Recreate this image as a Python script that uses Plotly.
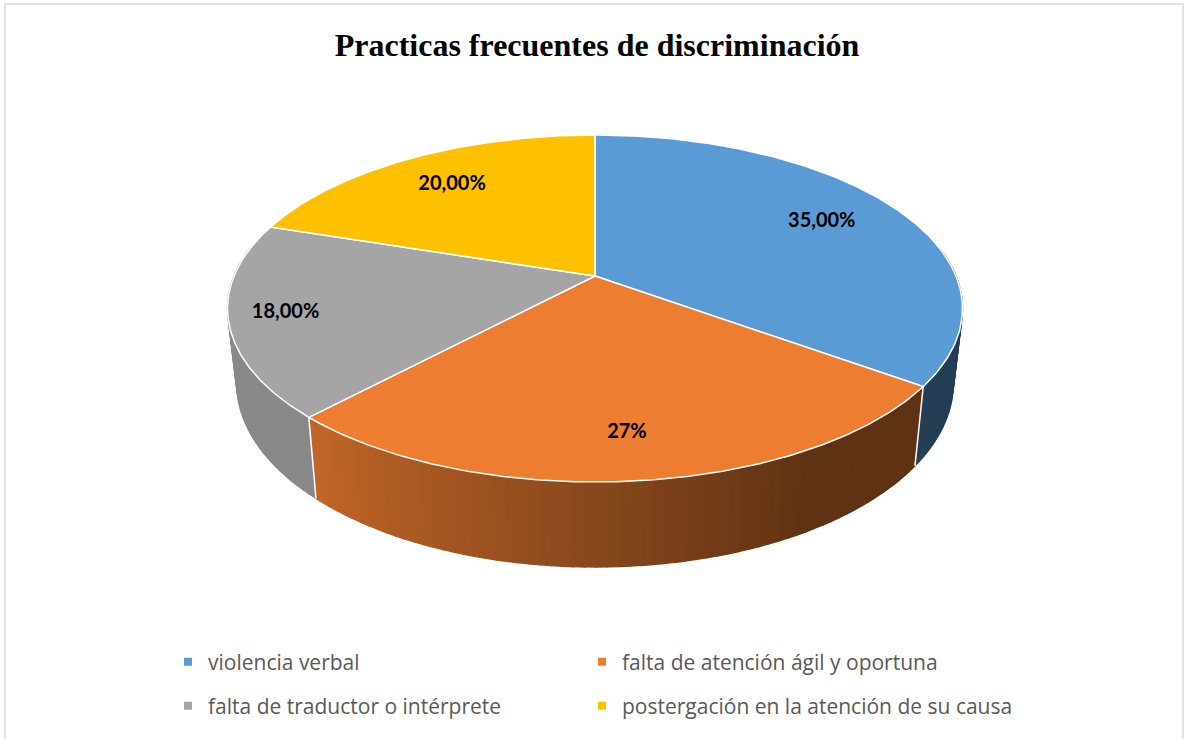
import numpy as np
import plotly.graph_objects as go

# ---- data ----
categories = [
    "violencia verbal",
    "falta de atención ágil y oportuna",
    "falta de traductor o intérprete",
    "postergación en la atención de su causa",
]
values = [35, 27, 18, 20]
value_labels = ["35,00%", "27%", "18,00%", "20,00%"]
title_text = "Practicas frecuentes de discriminación"

# ---- style ----
colors = ["#5B9BD5", "#ED7D31", "#A5A5A5", "#FFC000"]
label_radius = [0.75, 0.80, 0.85, 0.75]

W, H = 1194, 739
CX, CY = 595.0, 276.0      # pie apex on screen
RX, A, K = 361.0, 167.4, 0.1873   # perspective ellipse parameters
SX, SY, DH = 0.975, 1.06, 72.7    # bottom face transform


def hex_rgb(h):
    h = h.lstrip("#")
    return tuple(int(h[i:i + 2], 16) for i in (0, 2, 4))


def top_pt(theta_deg, r=1.0):
    t = np.radians(theta_deg)
    x = r * np.sin(t)
    z = r * np.cos(t)
    d = 1 + K * z
    return CX + RX * x / d, CY - A * z / d


def bot_pt(theta_deg):
    X, Y = top_pt(theta_deg)
    return CX + SX * (X - CX), CY + DH + SY * (Y - CY)


def shade(theta_deg):
    return 0.40 + 0.43 * float(np.clip((theta_deg - 150) / 75.0, 0, 1))


total = float(sum(values))
bounds = np.concatenate([[0], np.cumsum(values)]) / total * 360.0

fig = go.Figure()

# ---- side walls ----
STEP = 1.5
for i, col in enumerate(colors):
    t0, t1 = bounds[i], bounds[i + 1]
    lo, hi = max(t0, 80.0), min(t1, 280.0)
    if hi <= lo:
        continue
    n = max(1, int(np.ceil((hi - lo) / STEP)))
    ts = np.linspace(lo, hi, n + 1)
    base = hex_rgb(col)
    for a, b in zip(ts[:-1], ts[1:]):
        f = shade((a + b) / 2)
        c = "rgb(%d,%d,%d)" % tuple(int(round(v * f)) for v in base)
        p1, p2 = top_pt(a), top_pt(b)
        q1, q2 = bot_pt(a), bot_pt(b)
        fig.add_trace(go.Scatter(
            x=[p1[0], p2[0], q2[0], q1[0], p1[0]],
            y=[p1[1], p2[1], q2[1], q1[1], p1[1]],
            mode="lines", fill="toself", fillcolor=c,
            line=dict(color=c, width=1.3),
            hoverinfo="skip", showlegend=False))

# white separators on the side wall at visible slice boundaries
for t in bounds[1:-1]:
    if 90 < t < 270:
        p, q = top_pt(t), bot_pt(t)
        fig.add_trace(go.Scatter(
            x=[p[0], q[0]], y=[p[1], q[1]], mode="lines",
            line=dict(color="white", width=1.5),
            hoverinfo="skip", showlegend=False))

# ---- top faces ----
for i, col in enumerate(colors):
    ts = np.linspace(bounds[i], bounds[i + 1], 200)
    pts = [top_pt(t) for t in ts]
    xs = [CX] + [p[0] for p in pts] + [CX]
    ys = [CY] + [p[1] for p in pts] + [CY]
    fig.add_trace(go.Scatter(
        x=xs, y=ys, mode="lines", fill="toself", fillcolor=col,
        line=dict(color="white", width=1.5),
        hoverinfo="skip", showlegend=False))

# ---- value labels ----
lx, ly = [], []
for i in range(len(values)):
    mid = (bounds[i] + bounds[i + 1]) / 2
    X, Y = top_pt(mid, label_radius[i])
    lx.append(X)
    ly.append(Y)
fig.add_trace(go.Scatter(
    x=lx, y=ly, mode="text", text=value_labels,
    textfont=dict(family="Lato", size=20, color="black", weight="bold"),
    hoverinfo="skip", showlegend=False))

# ---- legend entries (2 x 2 grid, one legend per cell) ----
legend_ids = ["legend", "legend2", "legend3", "legend4"]
legend_x = [168, 582, 168, 582]
legend_y = [662, 662, 706, 706]
for i, (name, col) in enumerate(zip(categories, colors)):
    fig.add_trace(go.Scatter(
        x=[None], y=[None], mode="markers", name=name,
        marker=dict(symbol="square", size=8, color=col),
        legend=legend_ids[i]))

leg_common = dict(
    orientation="h", xanchor="left", yanchor="middle",
    font=dict(family="Open Sans", size=21, color="#595959"),
    bgcolor="rgba(0,0,0,0)", borderwidth=0, itemwidth=30,
)
legend_layout = {
    lid: dict(x=lxp / W, y=1 - lyp / H, **leg_common)
    for lid, lxp, lyp in zip(legend_ids, legend_x, legend_y)
}

fig.update_layout(
    width=W, height=H,
    margin=dict(l=0, r=0, t=0, b=0),
    paper_bgcolor="white", plot_bgcolor="white",
    xaxis=dict(range=[0, W], visible=False, autorange=False, fixedrange=True),
    yaxis=dict(range=[H, 0], visible=False, autorange=False, fixedrange=True),
    title=dict(text=title_text, x=0.5, xanchor="center",
               y=1 - 45 / H, yanchor="middle",
               font=dict(family="Liberation Serif", size=32, color="black", weight="bold")),
    shapes=[dict(type="rect", xref="x", yref="y", x0=5, x1=1183, y0=4, y1=760,
                 line=dict(color="#D9D9D9", width=1.5), fillcolor="rgba(0,0,0,0)",
                 layer="below")],
    **legend_layout,
)

fig.write_html("out.html", config={"displayModeBar": False},
               post_script="document.body.style.margin='0';")
